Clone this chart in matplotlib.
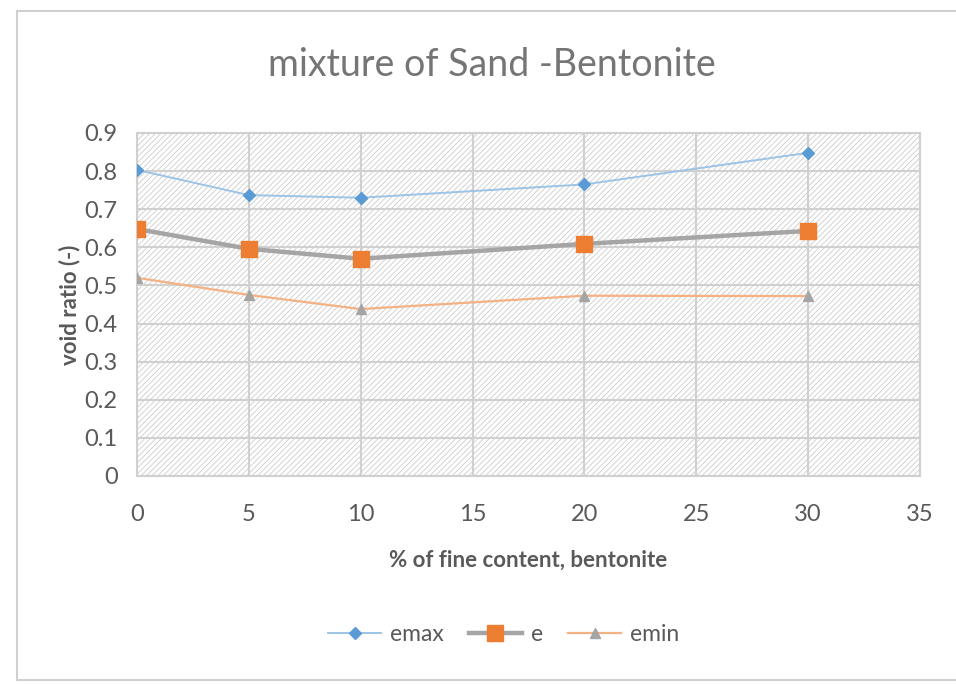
import matplotlib

matplotlib.use("Agg")
import matplotlib.pyplot as plt
from matplotlib.lines import Line2D
from matplotlib.patches import Rectangle

# void ratio vs. bentonite content
fine_content = [0, 5, 10, 20, 30]
e_max = [0.803, 0.737, 0.730, 0.765, 0.848]
e_mid = [0.648, 0.596, 0.570, 0.609, 0.643]
e_min = [0.520, 0.475, 0.438, 0.473, 0.472]

x_ticks = [0, 5, 10, 15, 20, 25, 30, 35]
y_ticks = [0, 0.1, 0.2, 0.3, 0.4, 0.5, 0.6, 0.7, 0.8, 0.9]

plt.rcParams["font.family"] = ["Lato", "DejaVu Sans"]
plt.rcParams["hatch.linewidth"] = 0.6

GRID = "#d0d0d0"
TEXT = "#595959"

fig = plt.figure(figsize=(9.56, 6.84), dpi=100)
ax = fig.add_axes([0.1433, 0.3041, 0.819, 0.5015])

# hatched plot area
ax.add_patch(Rectangle((0, 0), 1, 1, transform=ax.transAxes, facecolor="white",
                       edgecolor="#cccccc", hatch="//////", linewidth=0, zorder=0))

ax.plot(fine_content, e_max, color="#9dc3e6", lw=1.4, marker="D", ms=6,
        mfc="#5b9bd5", mec="#5b9bd5", zorder=3)
ax.plot(fine_content, e_mid, color="#a5a5a5", lw=3.2, marker="s", ms=12,
        mfc="#ed7d31", mec="#ed7d31", zorder=4)
ax.plot(fine_content, e_min, color="#f4b183", lw=1.6, marker="^", ms=7,
        mfc="#a5a5a5", mec="#a5a5a5", zorder=3)

ax.set_xlim(0, 35)
ax.set_ylim(0, 0.9)
ax.set_xticks(x_ticks)
ax.set_yticks(y_ticks)
ax.set_yticklabels(["0", "0.1", "0.2", "0.3", "0.4", "0.5", "0.6", "0.7", "0.8", "0.9"])
ax.tick_params(axis="y", length=0, labelsize=17, labelcolor=TEXT, pad=14)
ax.tick_params(axis="x", length=0, labelsize=17, labelcolor=TEXT, pad=20)
ax.grid(True, color=GRID, lw=1.5, zorder=1)
ax.set_axisbelow(True)
for sp in ax.spines.values():
    sp.set_color(GRID)
    sp.set_linewidth(1.5)

ax.set_xlabel("% of fine content, bentonite", fontsize=16, fontweight="bold",
              color=TEXT, labelpad=18)
ax.set_ylabel("void ratio (-)", fontsize=16, fontweight="bold", color=TEXT, labelpad=3)

fig.text(0.515, 0.905, "mixture of Sand -Bentonite", ha="center", va="center",
         fontsize=27, color="#757575")

handles = [
    Line2D([0], [0], color="#9dc3e6", lw=1.4, marker="D", ms=6, mfc="#5b9bd5", mec="#5b9bd5"),
    Line2D([0], [0], color="#a5a5a5", lw=3.2, marker="s", ms=12, mfc="#ed7d31", mec="#ed7d31"),
    Line2D([0], [0], color="#f4b183", lw=1.6, marker="^", ms=7, mfc="#a5a5a5", mec="#a5a5a5"),
]
fig.legend(handles, ["emax", "e", "emin"], loc="center", bbox_to_anchor=(0.527, 0.072),
           ncol=3, frameon=False, fontsize=16.5, labelcolor=TEXT, handlelength=2.3,
           columnspacing=1.1, handletextpad=0.4)

# outer chart frame
frame = dict(color="#d0d0d0", lw=1.5, transform=fig.transFigure)
fig.add_artist(Line2D([0.018, 0.018], [0.006, 0.984], **frame))
fig.add_artist(Line2D([0.018, 1.0], [0.984, 0.984], **frame))
fig.add_artist(Line2D([0.018, 1.0], [0.006, 0.006], **frame))

fig.savefig("out.png", dpi=100)
